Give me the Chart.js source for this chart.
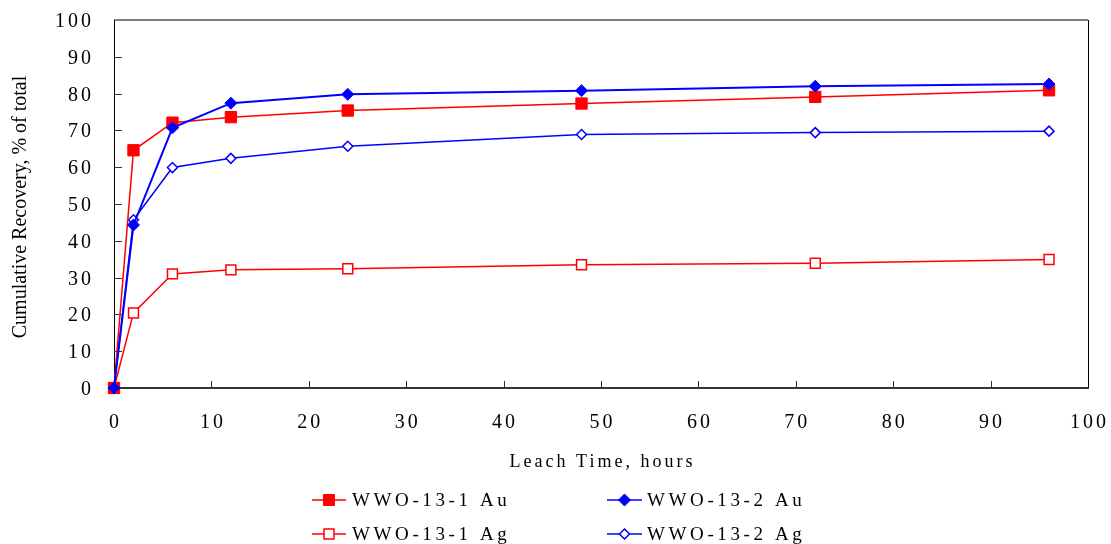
<!DOCTYPE html>
<html>
<head>
<meta charset="utf-8">
<script src="https://cdn.jsdelivr.net/npm/chart.js@4/dist/chart.umd.min.js"></script>
<style>
  html, body { margin: 0; padding: 0; background: #fff; }
  #chart { display: block; }
</style>
</head>
<body>
<canvas id="chart" width="1111" height="544"></canvas>
<script>
// leach time (hours) and cumulative recovery (% of total)
const times = [0, 2, 6, 12, 24, 48, 72, 96];
const au1 = [0, 64.6, 72.1, 73.6, 75.4, 77.3, 79.1, 80.9];
const au2 = [0, 44.3, 70.7, 77.4, 79.8, 80.8, 82.0, 82.6];
const ag1 = [0, 20.4, 31.0, 32.1, 32.4, 33.5, 33.9, 34.9];
const ag2 = [0, 45.7, 59.9, 62.4, 65.7, 68.9, 69.4, 69.8];

const xTicks = [0, 10, 20, 30, 40, 50, 60, 70, 80, 90, 100];
const yTicks = [0, 10, 20, 30, 40, 50, 60, 70, 80, 90, 100];

const xTitle = "Leach Time, hours";
const yTitle = "Cumulative Recovery, % of total";

const RED  = "#ff0000";
const BLUE = "#0000ff";
const SERIF = "'Liberation Serif', 'DejaVu Serif', serif";

const pts = (vals) => times.map((t, i) => ({ x: t, y: vals[i] }));

// dataset 0 is painted last (on top)
const datasets = [
  { label: "WWO-13-2 Au", data: pts(au2), borderColor: BLUE, backgroundColor: BLUE,
    borderWidth: 2, pointStyle: "rectRot", pointRadius: 6, pointBorderWidth: 1 },
  { label: "WWO-13-1 Au", data: pts(au1), borderColor: RED, backgroundColor: RED,
    borderWidth: 1.5, pointStyle: "rect", pointRadius: 8, pointBorderWidth: 1 },
  { label: "WWO-13-2 Ag", data: pts(ag2), borderColor: BLUE, backgroundColor: "#fff",
    borderWidth: 1.5, pointStyle: "rectRot", pointRadius: 5, pointBorderWidth: 1.5 },
  { label: "WWO-13-1 Ag", data: pts(ag1), borderColor: RED, backgroundColor: "#fff",
    borderWidth: 1.5, pointStyle: "rect", pointRadius: 7, pointBorderWidth: 1.5 },
].map(d => ({ ...d, pointBackgroundColor: d.backgroundColor, pointBorderColor: d.borderColor,
              tension: 0, clip: false, fill: false }));

// legend layout: row-major, two columns
const legendItems = [
  { label: "WWO-13-1 Au", color: RED,  shape: "square",  filled: true },
  { label: "WWO-13-2 Au", color: BLUE, shape: "diamond", filled: true },
  { label: "WWO-13-1 Ag", color: RED,  shape: "square",  filled: false },
  { label: "WWO-13-2 Ag", color: BLUE, shape: "diamond", filled: false },
];

function drawMarker(ctx, shape, filled, color, x, y) {
  ctx.save();
  ctx.beginPath();
  if (shape === "square") {
    const h = filled ? 5.5 : 5;
    ctx.rect(x - h, y - h, 2 * h, 2 * h);
  } else {
    const r = filled ? 6 : 5;
    ctx.moveTo(x, y - r); ctx.lineTo(x + r, y); ctx.lineTo(x, y + r); ctx.lineTo(x - r, y); ctx.closePath();
  }
  ctx.fillStyle = filled ? color : "#fff";
  ctx.strokeStyle = color;
  ctx.lineWidth = filled ? 1 : 1.5;
  ctx.fill();
  ctx.stroke();
  ctx.restore();
}

function spacedText(ctx, text, x, y, spacing, align) {
  ctx.letterSpacing = spacing + "px";
  let w = ctx.measureText(text).width;
  // measured width includes trailing spacing
  let sx = x;
  if (align === "center") sx = x - (w - spacing) / 2;
  else if (align === "right") sx = x - (w - spacing);
  ctx.textAlign = "left";
  ctx.fillText(text, sx, y);
  ctx.letterSpacing = "0px";
}

const decor = {
  id: "decor",
  beforeDatasetsDraw(chart) {
    const { ctx, chartArea: a, scales: { x, y } } = chart;
    ctx.save();
    // frame
    ctx.lineWidth = 2;
    ctx.strokeStyle = "#808080";
    ctx.beginPath(); ctx.moveTo(a.left, a.top); ctx.lineTo(a.right, a.top); ctx.stroke();
    ctx.lineWidth = 1;
    ctx.strokeStyle = "#000";
    ctx.beginPath(); ctx.moveTo(a.right + 0.5, a.top); ctx.lineTo(a.right + 0.5, a.bottom); ctx.stroke();
    ctx.beginPath(); ctx.moveTo(a.left + 0.5, a.top); ctx.lineTo(a.left + 0.5, a.bottom); ctx.stroke();
    ctx.lineWidth = 2;
    ctx.strokeStyle = "#333";
    ctx.beginPath(); ctx.moveTo(a.left, a.bottom); ctx.lineTo(a.right + 1, a.bottom); ctx.stroke();

    // inward tick marks
    ctx.lineWidth = 1;
    ctx.strokeStyle = "#333";
    yTicks.forEach(v => {
      if (v === 0 || v === 100) return;
      const py = Math.round(y.getPixelForValue(v)) + 0.5;
      ctx.beginPath(); ctx.moveTo(a.left, py); ctx.lineTo(a.left + 8, py); ctx.stroke();
    });
    xTicks.forEach(v => {
      if (v === 0 || v === 100) return;
      const px = Math.round(x.getPixelForValue(v)) + 0.5;
      ctx.beginPath(); ctx.moveTo(px, a.bottom); ctx.lineTo(px, a.bottom - 7); ctx.stroke();
    });
    ctx.restore();
  },
  afterDraw(chart) {
    const { ctx, chartArea: a, scales: { x, y } } = chart;
    ctx.save();
    ctx.fillStyle = "#000";
    ctx.textBaseline = "alphabetic";

    // tick labels
    ctx.font = "20px " + SERIF;
    yTicks.forEach(v => {
      spacedText(ctx, String(v), a.left - 23, y.getPixelForValue(v) + 7, 3, "right");
    });
    xTicks.forEach(v => {
      spacedText(ctx, String(v), x.getPixelForValue(v), a.bottom + 40, 3, "center");
    });

    // axis titles
    ctx.font = "18px " + SERIF;
    spacedText(ctx, xTitle, (a.left + a.right) / 2, 467, 3, "center");

    ctx.save();
    ctx.font = "20px " + SERIF;
    ctx.translate(26, 207);
    ctx.rotate(-Math.PI / 2);
    spacedText(ctx, yTitle, 0, 0, 0, "center");
    ctx.restore();

    // legend
    const cols = [{ l0: 312, l1: 346, tx: 352 }, { l0: 607, l1: 642, tx: 647 }];
    const rows = [{ ly: 500, by: 506 }, { ly: 534, by: 540 }];
    ctx.font = "19px " + SERIF;
    legendItems.forEach((it, i) => {
      const c = cols[i % 2], r = rows[Math.floor(i / 2)];
      ctx.strokeStyle = it.color;
      ctx.lineWidth = 1.5;
      ctx.beginPath(); ctx.moveTo(c.l0, r.ly); ctx.lineTo(c.l1, r.ly); ctx.stroke();
      drawMarker(ctx, it.shape, it.filled, it.color, (c.l0 + c.l1) / 2, r.ly);
      ctx.fillStyle = "#000";
      spacedText(ctx, it.label, c.tx, r.by, 3.6, "left");
    });
    ctx.restore();
  }
};

new Chart(document.getElementById("chart").getContext("2d"), {
  type: "line",
  data: { datasets },
  options: {
    responsive: false,
    animation: false,
    devicePixelRatio: 1,
    layout: { padding: { left: 114, right: 23, top: 20, bottom: 156 } },
    plugins: { legend: { display: false }, tooltip: { enabled: false } },
    scales: {
      x: { type: "linear", min: 0, max: 100, display: false },
      y: { type: "linear", min: 0, max: 100, display: false },
    },
  },
  plugins: [decor],
});
</script>
</body>
</html>
